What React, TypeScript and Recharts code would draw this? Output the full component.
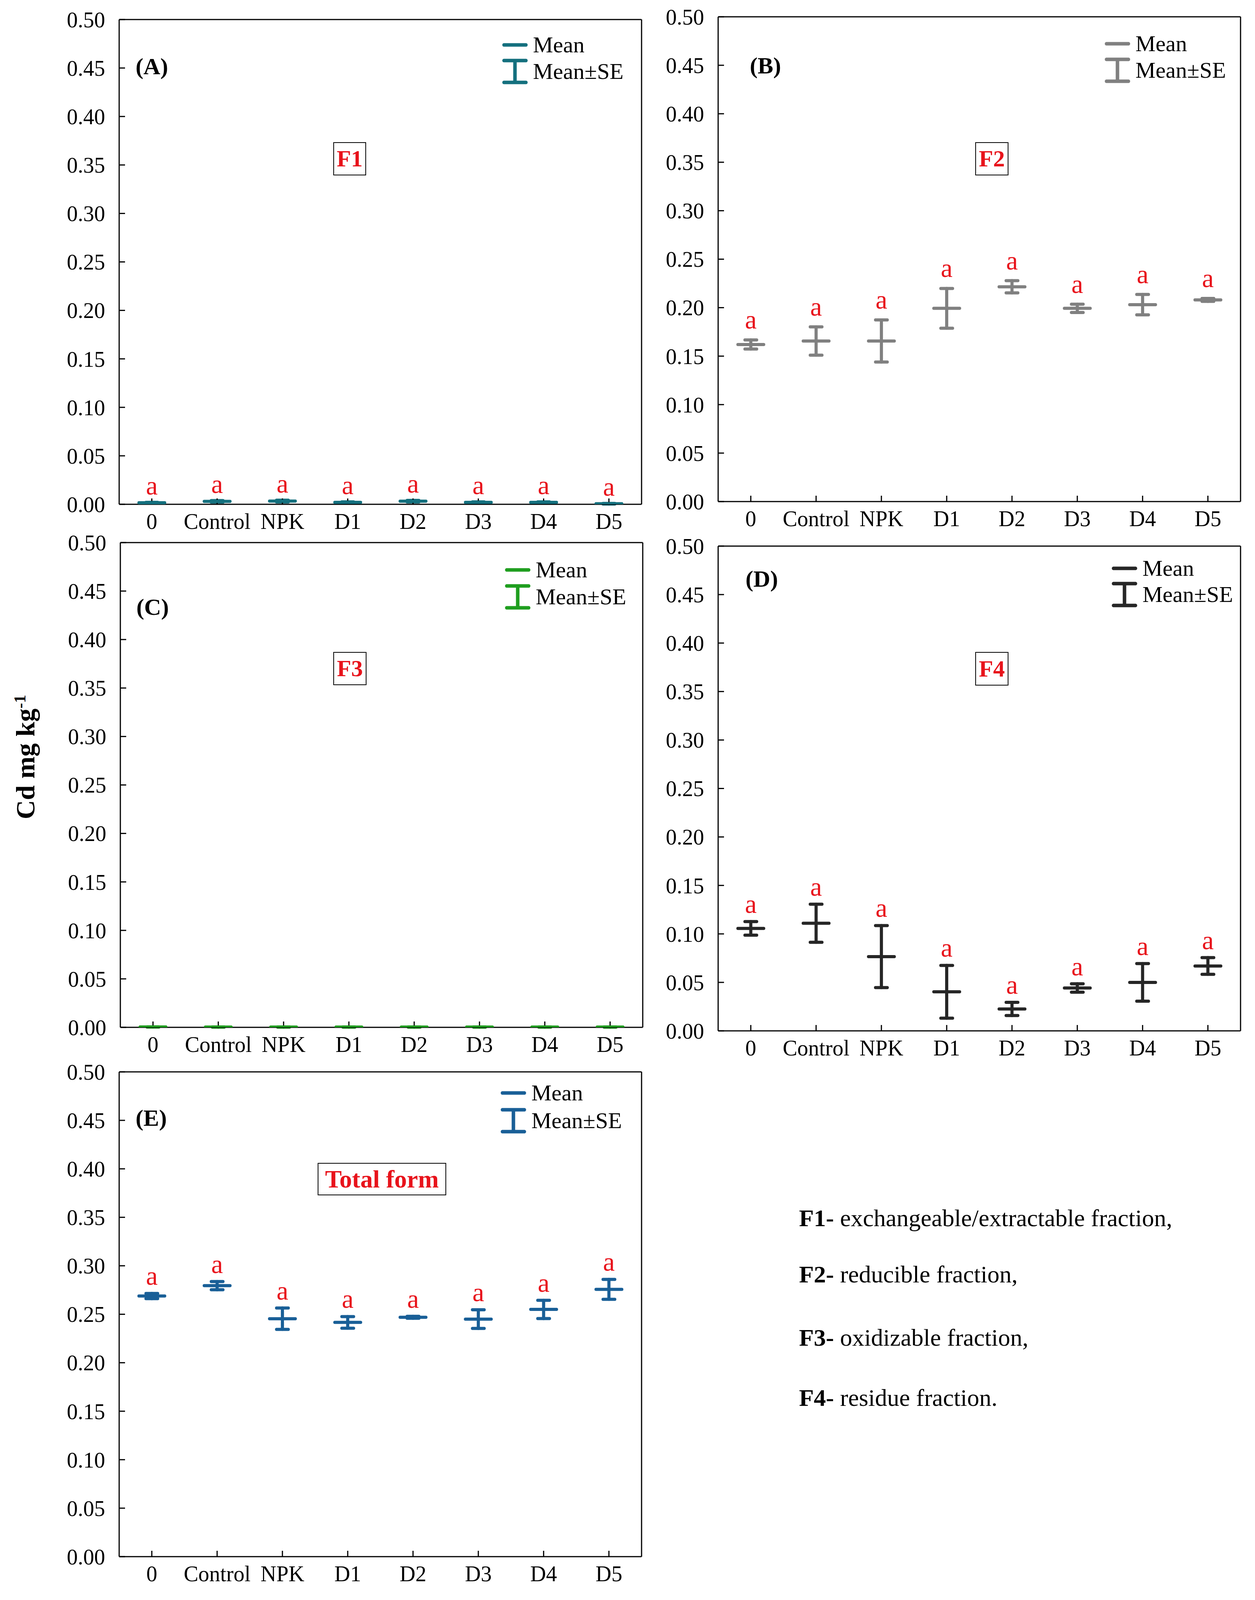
import React from 'react';
import { ComposedChart, Line, ErrorBar, XAxis, YAxis } from 'recharts';

// experiment variants on the x axis
const variants = ['0', 'Control', 'NPK', 'D1', 'D2', 'D3', 'D4', 'D5'];
const yTicks = [0, 0.05, 0.1, 0.15, 0.2, 0.25, 0.3, 0.35, 0.4, 0.45, 0.5];
const letters = ['a', 'a', 'a', 'a', 'a', 'a', 'a', 'a'];

// F1 - exchangeable
const f1Mean = [0.0016, 0.003, 0.0033, 0.002, 0.0032, 0.002, 0.002, 0.0006];
const f1Se = [0.0004, 0.0008, 0.0009, 0.0005, 0.0008, 0.0005, 0.0005, 0.0003];
// F2 - reducible
const f2Mean = [0.162, 0.1656, 0.1656, 0.1993, 0.2215, 0.1993, 0.2031, 0.208];
const f2Se = [0.0047, 0.0146, 0.0217, 0.0205, 0.0063, 0.0043, 0.0105, 0.0015];
// F3 - oxidizable
const f3Mean = [0.0004, 0.0003, 0.0003, 0.0003, 0.0003, 0.0003, 0.0003, 0.0003];
const f3Se = [0.0001, 0.0001, 0.0001, 0.0001, 0.0001, 0.0001, 0.0001, 0.0001];
// F4 - residue
const f4Mean = [0.1057, 0.111, 0.0766, 0.0403, 0.0226, 0.0442, 0.05, 0.0669];
const f4Se = [0.007, 0.0196, 0.032, 0.0272, 0.0068, 0.0043, 0.0194, 0.0086];
// total form
const totalMean = [0.2688, 0.2795, 0.2454, 0.2416, 0.2469, 0.245, 0.255, 0.2757];
const totalSe = [0.0027, 0.0042, 0.011, 0.006, 0.001, 0.0096, 0.0094, 0.0103];

const SERIF = '"Liberation Serif", "Times New Roman", serif';
const RED = '#e8131b';

const PAD_L = 300;
const PAD_T = 60;
const PAD_R = 60;
const PAD_B = 140;
const PLOT_W = 1337;
const PLOT_H = 1241;

const buildRows = (mean: number[], se: number[], withLetters: boolean) =>
  variants.map((v, i) => ({
    variant: v,
    mean: mean[i],
    se: se[i],
    top: mean[i] + se[i],
    letter: withLetters ? letters[i] : '',
  }));

interface PanelProps {
  left: number;
  top: number;
  rows: any[];
  color: string;
  letterGap: number;
}

const Panel: React.FC<PanelProps> = ({ left, top, rows, color, letterGap }) => {
  const half = PLOT_W / variants.length / 2;
  const line = { stroke: '#000', strokeWidth: 3 };
  const tickStyle = { fontFamily: SERIF, fontSize: 56, fill: '#000' };

  const meanDot = (p: any) => (
    <line
      key={`m-${p.index}`}
      x1={p.cx - 33}
      x2={p.cx + 33}
      y1={p.cy}
      y2={p.cy}
      stroke={color}
      strokeWidth={8}
      strokeLinecap="round"
    />
  );

  const letterDot = (p: any) =>
    p.payload.letter ? (
      <text
        key={`l-${p.index}`}
        x={p.cx}
        y={p.cy - letterGap}
        textAnchor="middle"
        fontFamily={SERIF}
        fontSize={68}
        fill={RED}
      >
        {p.payload.letter}
      </text>
    ) : (
      <g key={`l-${p.index}`} />
    );

  return (
    <div style={{ position: 'absolute', left: left - PAD_L, top: top - PAD_T }}>
      <ComposedChart
        width={PLOT_W + PAD_L + PAD_R}
        height={PLOT_H + PAD_T + PAD_B}
        data={rows}
        margin={{ top: PAD_T - 1, right: PAD_R - 1, bottom: PAD_B - 100, left: PAD_L - 200 }}
      >
        <XAxis
          dataKey="variant"
          type="category"
          interval={0}
          height={100}
          padding={{ left: half, right: half }}
          tickSize={-15}
          tickMargin={38}
          axisLine={line}
          tickLine={line}
          tick={tickStyle}
        />
        <XAxis
          xAxisId="top"
          orientation="top"
          dataKey="variant"
          type="category"
          interval={0}
          height={1}
          padding={{ left: half, right: half }}
          tickSize={-15}
          axisLine={line}
          tickLine={line}
          tick={false}
        />
        <YAxis
          type="number"
          domain={[0, 0.5]}
          ticks={yTicks}
          interval={0}
          width={200}
          tickFormatter={(v: number) => v.toFixed(2)}
          tickSize={-15}
          tickMargin={51}
          axisLine={line}
          tickLine={line}
          tick={tickStyle}
          allowDataOverflow
        />
        <YAxis
          yAxisId="right"
          orientation="right"
          type="number"
          domain={[0, 0.5]}
          ticks={yTicks}
          interval={0}
          width={1}
          tickSize={-15}
          axisLine={line}
          tickLine={line}
          tick={false}
        />
        <Line
          dataKey="mean"
          stroke="none"
          isAnimationActive={false}
          dot={meanDot}
          activeDot={false}
        >
          <ErrorBar
            dataKey="se"
            direction="y"
            width={15}
            stroke={color}
            strokeWidth={8}
            strokeLinecap="round"
            isAnimationActive={false}
          />
        </Line>
        <Line
          dataKey="top"
          stroke="none"
          isAnimationActive={false}
          dot={letterDot}
          activeDot={false}
        />
      </ComposedChart>
    </div>
  );
};

// y is the vertical centre of the text line
const TextAt = ({ x, y, size, children, style }: any) => (
  <div
    style={{
      position: 'absolute',
      left: x,
      top: Math.round(y - size * 0.65),
      height: Math.round(size * 1.3),
      fontSize: size,
      lineHeight: `${Math.round(size * 1.3)}px`,
      fontFamily: SERIF,
      whiteSpace: 'nowrap',
      ...style,
    }}
  >
    {children}
  </div>
);

const BoxLabel = ({ x1, y1, x2, y2, text, size }: any) => (
  <div
    style={{
      position: 'absolute',
      left: x1,
      top: y1,
      width: x2 - x1,
      height: y2 - y1,
      boxSizing: 'border-box',
      border: '2px solid #000',
      display: 'flex',
      alignItems: 'center',
      justifyContent: 'center',
      fontFamily: SERIF,
      fontWeight: 'bold',
      fontSize: size,
      color: RED,
      whiteSpace: 'nowrap',
    }}
  >
    {text}
  </div>
);

const MeanLegend = ({ x, y1, y2, color }: { x: number; y1: number; y2: number; color: string }) => (
  <>
    <svg
      style={{ position: 'absolute', left: x, top: y1 - 20, overflow: 'visible' }}
      width={64}
      height={y2 - y1 + 60}
    >
      <line x1={4} x2={60} y1={20} y2={20} stroke={color} strokeWidth={9} strokeLinecap="round" />
      <line x1={4} x2={60} y1={y2 - y1 - 8} y2={y2 - y1 - 8} stroke={color} strokeWidth={9} strokeLinecap="round" />
      <line x1={32} x2={32} y1={y2 - y1 - 8} y2={y2 - y1 + 48} stroke={color} strokeWidth={9} />
      <line x1={4} x2={60} y1={y2 - y1 + 48} y2={y2 - y1 + 48} stroke={color} strokeWidth={9} strokeLinecap="round" />
    </svg>
    <TextAt x={x + 78} y={y1} size={58}>Mean</TextAt>
    <TextAt x={x + 78} y={y2} size={58}>Mean±SE</TextAt>
  </>
);

const notes = [
  { key: 'F1-', text: ' exchangeable/extractable fraction,', y: 3118 },
  { key: 'F2-', text: ' reducible fraction,', y: 3262 },
  { key: 'F3-', text: ' oxidizable fraction,', y: 3424 },
  { key: 'F4-', text: ' residue fraction.', y: 3578 },
];

export default function App() {
  const bold = { fontWeight: 'bold' };
  return (
    <div
      style={{
        position: 'absolute',
        left: 0,
        top: 0,
        width: 3212,
        height: 4190,
        background: '#fff',
        fontFamily: SERIF,
        color: '#000',
      }}
    >
      <Panel left={305} top={50} rows={buildRows(f1Mean, f1Se, true)} color="#14707e" letterGap={20} />
      <Panel left={1838} top={43} rows={buildRows(f2Mean, f2Se, true)} color="#808080" letterGap={29} />
      <Panel left={308} top={1389} rows={buildRows(f3Mean, f3Se, false)} color="#1f9e1f" letterGap={22} />
      <Panel left={1838} top={1398} rows={buildRows(f4Mean, f4Se, true)} color="#262626" letterGap={22} />
      <Panel left={305} top={2744} rows={buildRows(totalMean, totalSe, true)} color="#195f97" letterGap={22} />

      <TextAt x={347} y={170} size={60} style={bold}>(A)</TextAt>
      <TextAt x={1919} y={168} size={60} style={bold}>(B)</TextAt>
      <TextAt x={349} y={1554} size={60} style={bold}>(C)</TextAt>
      <TextAt x={1908} y={1482} size={60} style={bold}>(D)</TextAt>
      <TextAt x={347} y={2862} size={60} style={bold}>(E)</TextAt>

      <BoxLabel x1={853} y1={364} x2={937} y2={449} text="F1" size={60} />
      <BoxLabel x1={2496} y1={364} x2={2581} y2={449} text="F2" size={60} />
      <BoxLabel x1={853} y1={1669} x2={938} y2={1754} text="F3" size={60} />
      <BoxLabel x1={2496} y1={1669} x2={2581} y2={1755} text="F4" size={60} />
      <BoxLabel x1={813} y1={2977} x2={1142} y2={3060} text="Total form" size={64} />

      <MeanLegend x={1286} y1={115} y2={183} color="#14707e" />
      <MeanLegend x={2828} y1={112} y2={180} color="#808080" />
      <MeanLegend x={1293} y1={1459} y2={1528} color="#1f9e1f" />
      <MeanLegend x={2846} y1={1455} y2={1522} color="#262626" />
      <MeanLegend x={1282} y1={2798} y2={2869} color="#195f97" />

      <div
        style={{
          position: 'absolute',
          left: 66,
          top: 1938,
          transform: 'translate(-50%, -50%) rotate(-90deg)',
          fontWeight: 'bold',
          fontSize: 68,
          whiteSpace: 'nowrap',
          lineHeight: 1.2,
        }}
      >
        Cd mg kg<sup style={{ fontSize: '0.62em' }}>-1</sup>
      </div>

      <TextAt x={395} y={4140} size={64} style={{ fontStyle: 'italic', width: 1000, textAlign: 'center' }}>
        Variant of the experiment
      </TextAt>

      {notes.map((n) => (
        <TextAt key={n.key} x={2045} y={n.y} size={62}>
          <b>{n.key}</b>
          {n.text}
        </TextAt>
      ))}
    </div>
  );
}
